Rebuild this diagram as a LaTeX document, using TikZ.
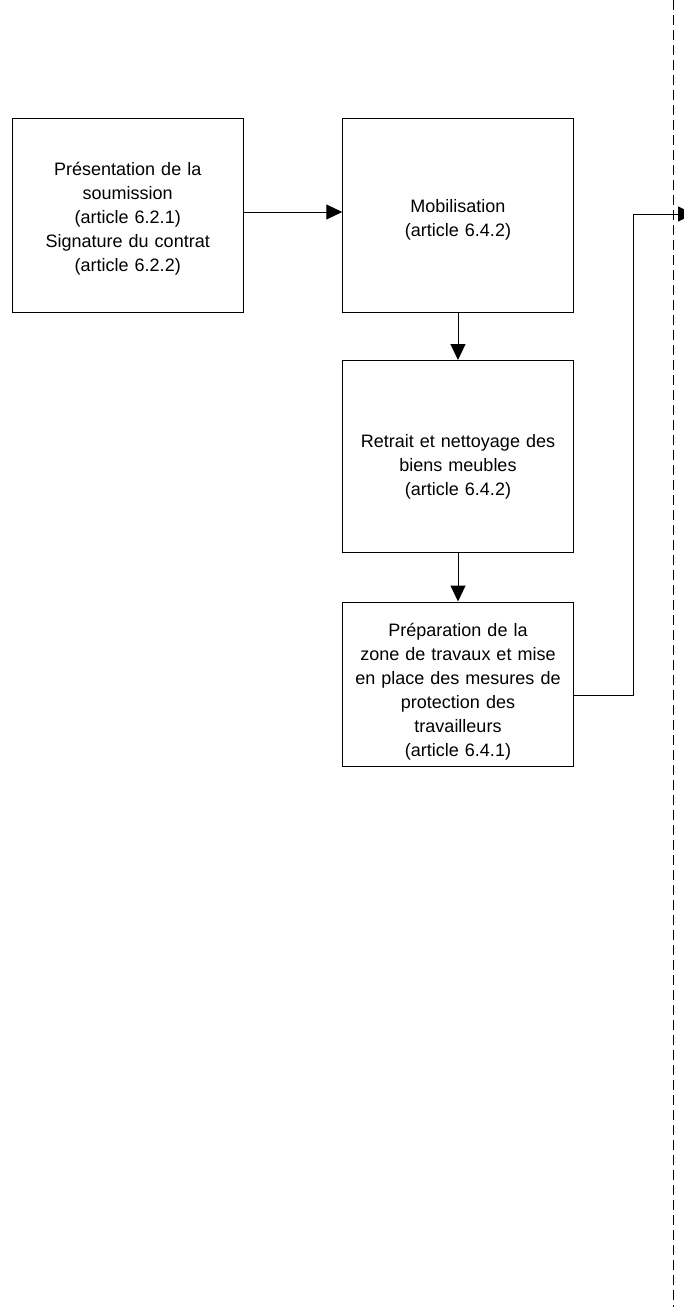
\documentclass[tikz,border=0pt]{standalone}
\usepackage{fontspec}
\setmainfont{Liberation Sans}
\usepackage{tikz}
\usetikzlibrary{arrows.meta,positioning}

\tikzset{
    etape/.style={draw, line width=1pt, align=center, inner sep=4pt,
        minimum width=230.5pt, text width=220pt,
        font=\fontsize{18pt}{24pt}\selectfont},
    decal/.style={execute at begin node={\rule{0pt}{#1}}},
    fleche/.style={line width=1pt, -{Triangle[length=16pt,width=15pt]}},
}

\begin{document}
\begin{tikzpicture}[x=1pt, y=-1pt]
    \useasboundingbox (0,0) rectangle (683,1307);

    % Etapes
    \node[etape, decal=21pt, minimum height=193.5pt] (soumission) at (127.75,215.25)
        {Présentation de la\\soumission\\(article 6.2.1)\\Signature du contrat\\(article 6.2.2)};
    \node[etape, decal=23pt, minimum height=193.5pt] (mobil) at (458,215.25)
        {Mobilisation\\(article 6.4.2)};
    \node[etape, decal=33pt, minimum height=192pt] (retrait) at (458,456.5)
        {Retrait et nettoyage des\\biens meubles\\(article 6.4.2)};
    \node[etape, decal=29pt, minimum height=164pt] (prepa) at (458,684)
        {Préparation de la\\zone de travaux et mise\\en place des mesures de\\protection des\\travailleurs\\(article 6.4.1)};

    % Limite (pointillés)
    \coordinate (haut) at (673,0);
    \coordinate (bas) at (673,1307);
    \draw[line width=1pt, dash pattern=on 10pt off 5pt] (haut) -- (bas);

    % Liens
    \draw[fleche] (soumission.east |- 0,212) -- (mobil.west |- 0,212);
    \draw[fleche] (mobil) -- (retrait);
    \draw[fleche] (retrait) -- (prepa);

    \coordinate (suite) at (694,214);
    \draw[fleche] (prepa.east |- 0,695) -| (633,214) -- (suite);
\end{tikzpicture}
\end{document}
